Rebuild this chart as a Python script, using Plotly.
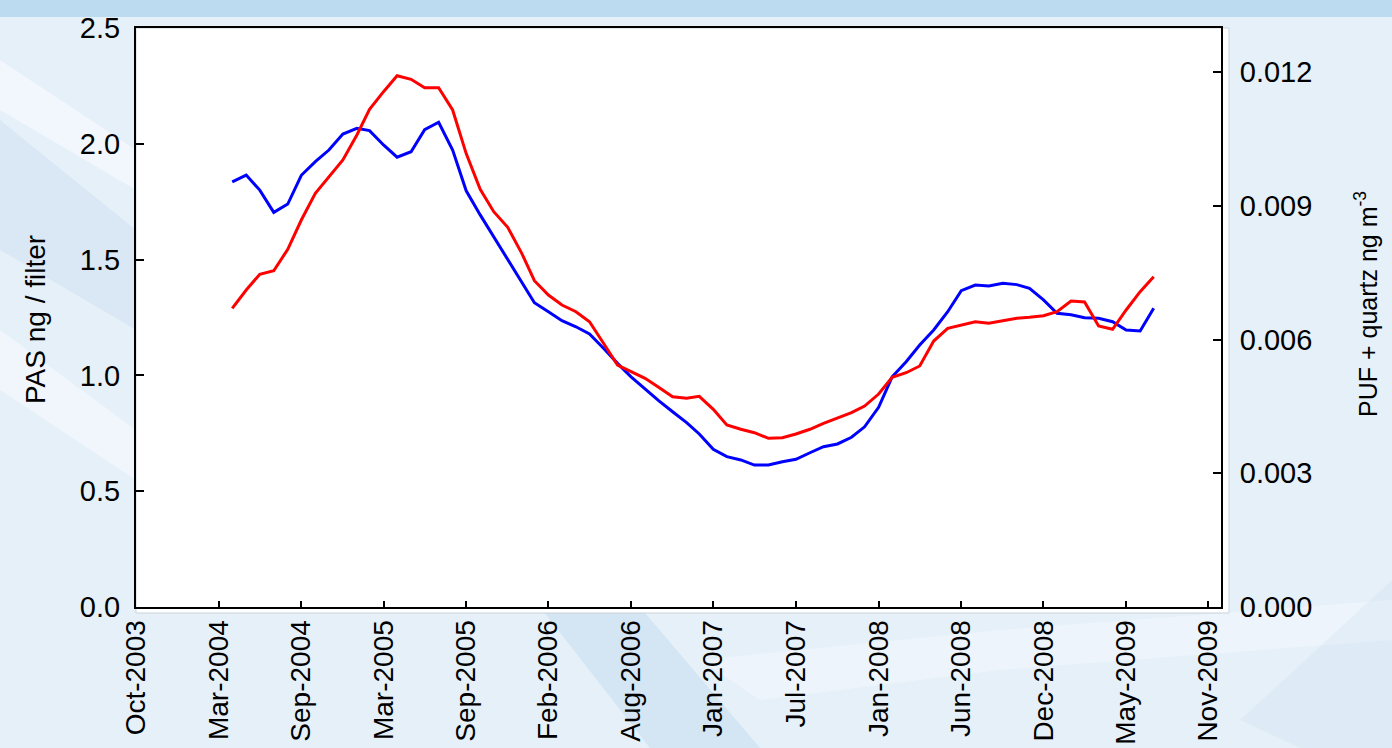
import pandas as pd
import plotly.graph_objects as go

# Monthly sampling dates (68 months)
dates = pd.date_range("2004-05-01", periods=68, freq="MS")

# PAS ng / filter (left axis) - blue
pas = [1.836, 1.865, 1.800, 1.704, 1.740, 1.864, 1.923, 1.973, 2.042, 2.067,
       2.057, 1.995, 1.942, 1.966, 2.061, 2.093, 1.973, 1.797, 1.693, 1.599,
       1.498, 1.405, 1.314, 1.275, 1.236, 1.210, 1.179, 1.117, 1.052, 0.994,
       0.940, 0.891, 0.843, 0.796, 0.747, 0.681, 0.649, 0.635, 0.613, 0.613,
       0.627, 0.638, 0.666, 0.692, 0.704, 0.733, 0.778, 0.862, 0.994, 1.059,
       1.131, 1.196, 1.275, 1.366, 1.390, 1.386, 1.398, 1.392, 1.376, 1.326,
       1.268, 1.262, 1.249, 1.247, 1.232, 1.196, 1.192, 1.290]

# PUF + quartz ng m-3 (right axis) - red
puf = [0.006700, 0.007110, 0.007463, 0.007543, 0.008023, 0.008680, 0.009279,
       0.009652, 0.010026, 0.010587, 0.011163, 0.011559, 0.011917, 0.011836,
       0.011648, 0.011648, 0.011148, 0.010170, 0.009369, 0.008867, 0.008517,
       0.007933, 0.007319, 0.006998, 0.006774, 0.006624, 0.006399, 0.005915,
       0.005428, 0.005278, 0.005130, 0.004928, 0.004717, 0.004681, 0.004725,
       0.004434, 0.004082, 0.003986, 0.003910, 0.003784, 0.003797, 0.003880,
       0.003986, 0.004120, 0.004233, 0.004358, 0.004508, 0.004777, 0.005152,
       0.005255, 0.005406, 0.005966, 0.006251, 0.006325, 0.006399, 0.006363,
       0.006422, 0.006476, 0.006498, 0.006534, 0.006624, 0.006864, 0.006841,
       0.006303, 0.006229, 0.006662, 0.007072, 0.007409]

tick_dates = ["2003-10-01", "2004-04-01", "2004-10-01", "2005-04-01", "2005-10-01",
              "2006-04-01", "2006-10-01", "2007-04-01", "2007-10-01", "2008-04-01",
              "2008-10-01", "2009-04-01", "2009-10-01", "2010-04-01"]
tick_labels = ["Oct-2003", "Mar-2004", "Sep-2004", "Mar-2005", "Sep-2005",
               "Feb-2006", "Aug-2006", "Jan-2007", "Jul-2007", "Jan-2008",
               "Jun-2008", "Dec-2008", "May-2009", "Nov-2009"]
left_ticks = [0.0, 0.5, 1.0, 1.5, 2.0, 2.5]
right_ticks = [0.000, 0.003, 0.006, 0.009, 0.012]

FONT = "Liberation Sans, Arial, sans-serif"

fig = go.Figure()
fig.add_trace(go.Scatter(x=dates, y=pas, mode="lines", name="PAS",
                         line=dict(color="#0000ff", width=3), yaxis="y"))
fig.add_trace(go.Scatter(x=dates, y=puf, mode="lines", name="PUF + quartz",
                         line=dict(color="#ff0000", width=3), yaxis="y2"))

W, H = 1392, 748
L, R, T, B = 136, 171, 28, 141
pw, ph = W - L - R, H - T - B


def px(x):
    return (x - L) / pw


def py(y):
    return (H - B - y) / ph


def poly(points):
    return "M " + " L ".join(f"{px(x):.4f},{py(y):.4f}" for x, y in points) + " Z"


shapes = [
    # subtle background swooshes of the slide
    dict(type="path", xref="paper", yref="paper",
         path=poly([(0, 120), (136, 230), (136, 330), (0, 250)]),
         fillcolor="rgba(195,218,240,0.35)", line=dict(width=0), layer="below"),
    dict(type="path", xref="paper", yref="paper",
         path=poly([(0, 60), (136, 150), (136, 190), (0, 110)]),
         fillcolor="rgba(255,255,255,0.45)", line=dict(width=0), layer="below"),
    dict(type="path", xref="paper", yref="paper",
         path=poly([(0, 330), (136, 430), (136, 480), (0, 390)]),
         fillcolor="rgba(255,255,255,0.4)", line=dict(width=0), layer="below"),
    dict(type="path", xref="paper", yref="paper",
         path=poly([(540, 607), (640, 607), (760, 748), (650, 748)]),
         fillcolor="rgba(190,215,238,0.45)", line=dict(width=0), layer="below"),
    dict(type="path", xref="paper", yref="paper",
         path=poly([(700, 660), (1000, 630), (1392, 600), (1392, 640), (1000, 670), (760, 700)]),
         fillcolor="rgba(255,255,255,0.3)", line=dict(width=0), layer="below"),
    dict(type="path", xref="paper", yref="paper",
         path=poly([(1240, 720), (1392, 580), (1392, 748), (1300, 748)]),
         fillcolor="rgba(205,225,243,0.3)", line=dict(width=0), layer="below"),
    # top band of the slide background
    dict(type="rect", xref="paper", yref="paper", x0=-0.2, x1=1.3,
         y0=py(17), y1=1.1, fillcolor="#bcdbf0", line=dict(width=0),
         layer="below"),
    # white chart area extending slightly right/bottom of the axes
    dict(type="rect", xref="paper", yref="paper", x0=0, x1=px(1229),
         y0=py(613), y1=1, fillcolor="white", line=dict(color="#c9d3dc", width=1),
         layer="below"),
]

fig.update_layout(
    width=W, height=H,
    margin=dict(l=L, r=R, t=T, b=B, autoexpand=False),
    paper_bgcolor="#e6f0f9",
    plot_bgcolor="white",
    showlegend=False,
    font=dict(family=FONT, color="black", size=29),
    shapes=shapes,
    xaxis=dict(
        type="date", range=["2003-10-01", "2010-04-29"],
        tickmode="array", tickvals=tick_dates, ticktext=tick_labels,
        tickangle=-90, ticks="inside", ticklen=6, tickwidth=1.5, tickcolor="black",
        showline=True, linecolor="black", linewidth=2, mirror=True,
        showgrid=False, zeroline=False, ticklabelstandoff=0,
        tickfont=dict(size=28, family=FONT),
    ),
    yaxis=dict(
        range=[0, 2.5], tickmode="array", tickvals=left_ticks, tickformat=".1f",
        ticks="inside", ticklen=8, tickwidth=1.5, tickcolor="black",
        showline=True, linecolor="black", linewidth=2,
        showgrid=False, zeroline=False, ticklabelstandoff=8,
        tickfont=dict(size=29, family=FONT),
    ),
    yaxis2=dict(
        range=[0, 0.012987], overlaying="y", side="right",
        tickmode="array", tickvals=right_ticks, tickformat=".3f",
        ticks="inside", ticklen=8, tickwidth=1.5, tickcolor="black",
        showline=True, linecolor="black", linewidth=2,
        showgrid=False, zeroline=False, ticklabelstandoff=11,
        tickfont=dict(size=29, family=FONT),
    ),
    annotations=[
        dict(text="PAS ng / filter", xref="paper", yref="paper",
             x=px(35), y=py(320), textangle=-90,
             xanchor="center", yanchor="middle", showarrow=False,
             font=dict(size=28, family=FONT, color="black")),
        dict(text="PUF + quartz ng m<sup>-3</sup>", xref="paper", yref="paper",
             x=px(1366), y=py(304), textangle=-90,
             xanchor="center", yanchor="middle", showarrow=False,
             font=dict(size=25, family=FONT, color="black")),
    ],
)

fig.write_html("out.html", config={"displayModeBar": False},
               post_script="document.body.style.margin='0';document.body.style.overflow='hidden';")
